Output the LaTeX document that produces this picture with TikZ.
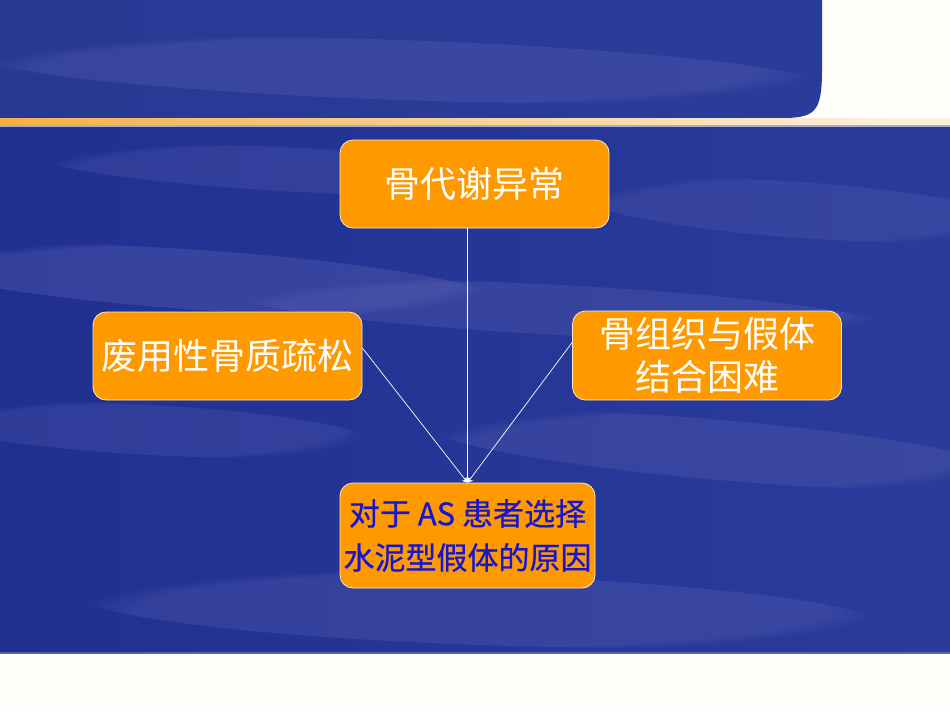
\documentclass[tikz,border=0pt]{standalone}
\usepackage{fontspec}
\newfontfamily\cjk{Noto Sans CJK SC}
\newfontfamily\cjkb[FakeBold=0.6]{Noto Sans CJK SC}
\usetikzlibrary{arrows.meta,fadings,calc}
\definecolor{bgblue}{RGB}{42,60,155}
\definecolor{bgdark}{RGB}{32,48,145}
\definecolor{bglight}{RGB}{95,100,180}
\definecolor{boxorange}{RGB}{255,153,0}
\definecolor{boxedge}{RGB}{250,235,200}
\definecolor{offwhite}{RGB}{254,254,250}
\definecolor{bandorange}{RGB}{246,176,70}
\definecolor{bandpale}{RGB}{252,240,220}
\definecolor{txtblue}{RGB}{22,22,210}
\tikzset{
  box/.style={draw=boxedge, line width=0.8pt, fill=boxorange, rounded corners=13pt,
    inner sep=0pt, align=center, font=\cjk\fontsize{36}{43}\selectfont, text=white},
  conn/.style={draw=white, line width=0.7pt, -{Stealth[length=5pt,width=7pt]}},
  streak/.style={fill=bglight, path fading=circle with fuzzy edge 15 percent}
}
\begin{document}
\begin{tikzpicture}[x=1pt,y=-1pt]
\useasboundingbox (0,0) rectangle (950,713);
% page background
\fill[offwhite] (0,0) rectangle (950,713);
% main blue area
\shade[left color=bgdark, right color=bgblue] (0,126) rectangle (950,653);
% soft streaks
\begin{scope}
\clip (0,126) rectangle (950,653);
\fill[streak, opacity=0.35, rotate around={-4:(200,280)}] (200,280) ellipse (300 and 30);
\fill[streak, opacity=0.3, rotate around={-3:(560,310)}] (560,310) ellipse (330 and 25);
\fill[streak, opacity=0.25, rotate around={-3:(150,430)}] (150,430) ellipse (220 and 25);
\fill[streak, opacity=0.3, rotate around={-5:(720,450)}] (720,450) ellipse (300 and 30);
\fill[streak, opacity=0.3, rotate around={-2:(480,610)}] (480,610) ellipse (400 and 35);
\fill[streak, opacity=0.25, rotate around={-4:(800,210)}] (800,210) ellipse (220 and 28);
\fill[streak, opacity=0.25, rotate around={-3:(300,170)}] (300,170) ellipse (260 and 22);
\end{scope}
\fill[bgdark!60!white, opacity=0.6] (0,652) rectangle (950,654);
% header
\path[left color=bgblue!95!black, right color=bgblue]
  (0,0) -- (822,0) -- (822,70) .. controls (822,112) and (815,118) .. (782,118) -- (0,118) -- cycle;
\begin{scope}
\clip (0,0) -- (822,0) -- (822,70) .. controls (822,112) and (815,118) .. (782,118) -- (0,118) -- cycle;
\fill[streak, opacity=0.3, rotate around={-2:(400,70)}] (400,70) ellipse (420 and 30);
\end{scope}
\shade[left color=bandorange, right color=bandpale] (0,118) rectangle (900,125);
\fill[bandpale] (900,118) rectangle (950,125);
\fill[black!15!bgblue!40!white] (0,125) rectangle (950,126.5);
% boxes
\node[box, minimum width=269pt, minimum height=88pt] (top) at (474.5,184) {骨代谢异常};
\node[box, minimum width=269pt, minimum height=88pt] (left) at (227.5,356) {废用性骨质疏松};
\node[box, minimum width=269pt, minimum height=89pt] (right) at (707,355.5) {骨组织与假体\\结合困难};
\node[box, minimum width=255pt, minimum height=105pt, text=txtblue,
  font=\cjkb\fontsize{31}{44}\selectfont] (bot) at (467.5,535.5) {对于 AS 患者选择\\水泥型假体的原因};
% connectors
\draw[conn] (top.south -| bot.north) -- (bot.north);
\draw[conn] ([yshift=8pt]left.east) -- (bot.north);
\draw[conn] ([yshift=13pt]right.west) -- (bot.north);
\end{tikzpicture}
\end{document}
